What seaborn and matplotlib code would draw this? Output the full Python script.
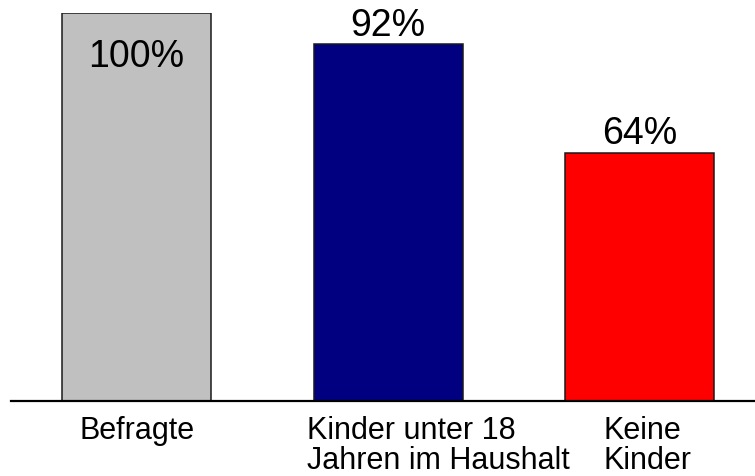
import matplotlib
matplotlib.use("Agg")
import matplotlib.pyplot as plt
import seaborn as sns
import pandas as pd

categories = ["Befragte", "Kinder unter 18\nJahren im Haushalt", "Keine\nKinder"]
values = [100, 92, 64]
value_labels = ["100%", "92%", "64%"]
colors = ["#C0C0C0", "#000080", "#FF0000"]

sns.set_theme(style="white")
plt.rcParams['font.family'] = ['Liberation Sans', 'DejaVu Sans']

df = pd.DataFrame({"cat": categories, "val": values})

fig = plt.figure(figsize=(7.55, 4.76), dpi=100)
ax = fig.add_axes([11/755, 75.5/476, 1 - 11/755, (400.5 - 13.3)/476])

sns.barplot(data=df, x="cat", y="val", hue="cat", palette=colors, legend=False,
            width=0.593, edgecolor="#1a1a1a", linewidth=1.1, saturation=1, ax=ax)

ax.set_xlim(-0.5, 2.46)
ax.set_ylim(0, 100)
ax.set_xlabel("")
ax.set_ylabel("")
ax.set_yticks([])
ax.set_xticks([])
for s in ["top", "left", "right"]:
    ax.spines[s].set_visible(False)
ax.spines["bottom"].set_linewidth(1.6)
ax.spines["bottom"].set_color("black")

# value labels
label_offsets = [-39, 6, 6]
for i, (v, lab) in enumerate(zip(values, value_labels)):
    ax.annotate(lab, xy=(i, v), xytext=(0, label_offsets[i]), textcoords="offset points",
                ha="center", va="baseline", fontsize=27, color="black")

# category labels
cat_dx = [0, 36, 6]
for i, c in enumerate(categories):
    ax.annotate(c, xy=(i, 0), xycoords=ax.get_xaxis_transform(),
                xytext=(cat_dx[i], -11), textcoords="offset points",
                ha="center", va="top", multialignment="left",
                fontsize=22, color="black", linespacing=1.0)

fig.savefig("out.png", dpi=100)
